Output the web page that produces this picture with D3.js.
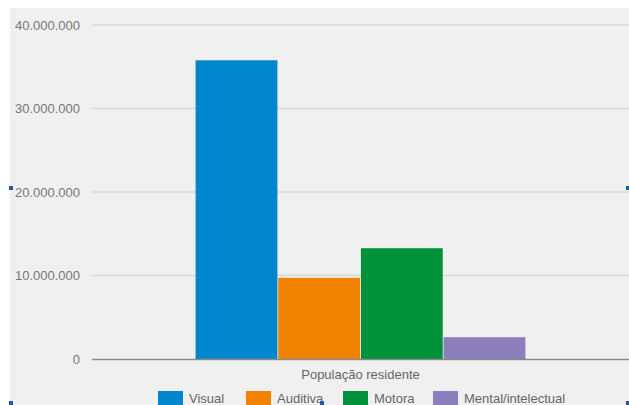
<!DOCTYPE html>
<html>
<head>
<meta charset="utf-8">
<script src="https://cdn.jsdelivr.net/npm/d3@7"></script>
<style>
  body { margin: 0; background: #fff; }
  svg { display: block; font-family: "Liberation Sans", Arial, sans-serif; }
</style>
</head>
<body>
<svg id="chart"></svg>
<script>
const categories = ['População residente'];
const seriesNames = ['Visual', 'Auditiva', 'Motora', 'Mental/intelectual'];
const seriesValues = [35774392, 9717318, 13265599, 2611536];
const seriesColors = ['#0086cc', '#f08200', '#00923a', '#8c7fbd'];
const yTicks = [0, 10000000, 20000000, 30000000, 40000000];

const width = 629;
const height = 405;
const margin = { top: 25, right: 0, bottom: 46, left: 92 };

const svg = d3.select('#chart')
  .attr('width', width)
  .attr('height', height);

// grey panel
svg.append('rect')
  .attr('x', 10)
  .attr('y', 8)
  .attr('width', width - 10)
  .attr('height', height - 8)
  .attr('fill', '#f0f0f0');

const y = d3.scaleLinear()
  .domain([0, 40000000])
  .range([height - margin.bottom, margin.top]);

const x0 = d3.scaleBand()
  .domain(categories)
  .range([margin.left, width - margin.right])
  .paddingInner(0)
  .paddingOuter(0.31);

const x1 = d3.scaleBand()
  .domain(seriesNames)
  .range([0, x0.bandwidth()])
  .padding(0.01);

const fmt = d => d3.format(',')(d).replace(/,/g, '.');

// gridlines
svg.append('g')
  .selectAll('line')
  .data(yTicks.filter(d => d > 0))
  .enter()
  .append('line')
  .attr('x1', margin.left)
  .attr('x2', width)
  .attr('y1', d => y(d))
  .attr('y2', d => y(d))
  .attr('stroke', '#d8d8d8')
  .attr('stroke-width', 1.5);

// y labels
svg.append('g')
  .selectAll('text')
  .data(yTicks)
  .enter()
  .append('text')
  .attr('x', 80)
  .attr('y', d => y(d))
  .attr('dy', '0.35em')
  .attr('text-anchor', 'end')
  .attr('fill', '#777')
  .style('font-size', '13px')
  .text(fmt);

// bars
const group = svg.append('g')
  .selectAll('g')
  .data(categories)
  .enter()
  .append('g')
  .attr('transform', d => 'translate(' + x0(d) + ',0)');

group.selectAll('rect')
  .data(seriesNames.map((s, i) => ({ name: s, value: seriesValues[i], color: seriesColors[i] })))
  .enter()
  .append('rect')
  .attr('x', d => x1(d.name))
  .attr('width', x1.bandwidth())
  .attr('y', d => y(d.value))
  .attr('height', d => y(0) - y(d.value))
  .attr('fill', d => d.color);

// baseline
svg.append('line')
  .attr('x1', margin.left)
  .attr('x2', width)
  .attr('y1', y(0) + 0.5)
  .attr('y2', y(0) + 0.5)
  .attr('stroke', '#8a8a8a')
  .attr('stroke-width', 1.5);

// category label
svg.append('g')
  .selectAll('text')
  .data(categories)
  .enter()
  .append('text')
  .attr('x', d => x0(d) + x0.bandwidth() / 2)
  .attr('y', 379)
  .attr('text-anchor', 'middle')
  .attr('fill', '#666')
  .style('font-size', '13px')
  .text(d => d);

// legend
const legendX = [158, 246, 343, 433];
const legend = svg.append('g')
  .selectAll('g')
  .data(seriesNames)
  .enter()
  .append('g')
  .attr('transform', (d, i) => 'translate(' + legendX[i] + ',391)');

legend.append('rect')
  .attr('width', 25)
  .attr('height', 14)
  .attr('fill', (d, i) => seriesColors[i]);

legend.append('text')
  .attr('x', 31)
  .attr('y', 12)
  .attr('fill', '#666')
  .style('font-size', '13px')
  .text(d => d);

// selection handles left over in the screenshot
const handles = [[9, 186], [626, 186], [320, 401], [9, 401], [626, 401]];
svg.append('g')
  .selectAll('rect')
  .data(handles)
  .enter()
  .append('rect')
  .attr('x', d => d[0])
  .attr('y', d => d[1])
  .attr('width', 4)
  .attr('height', 4)
  .attr('fill', '#2b5797');
</script>
</body>
</html>
